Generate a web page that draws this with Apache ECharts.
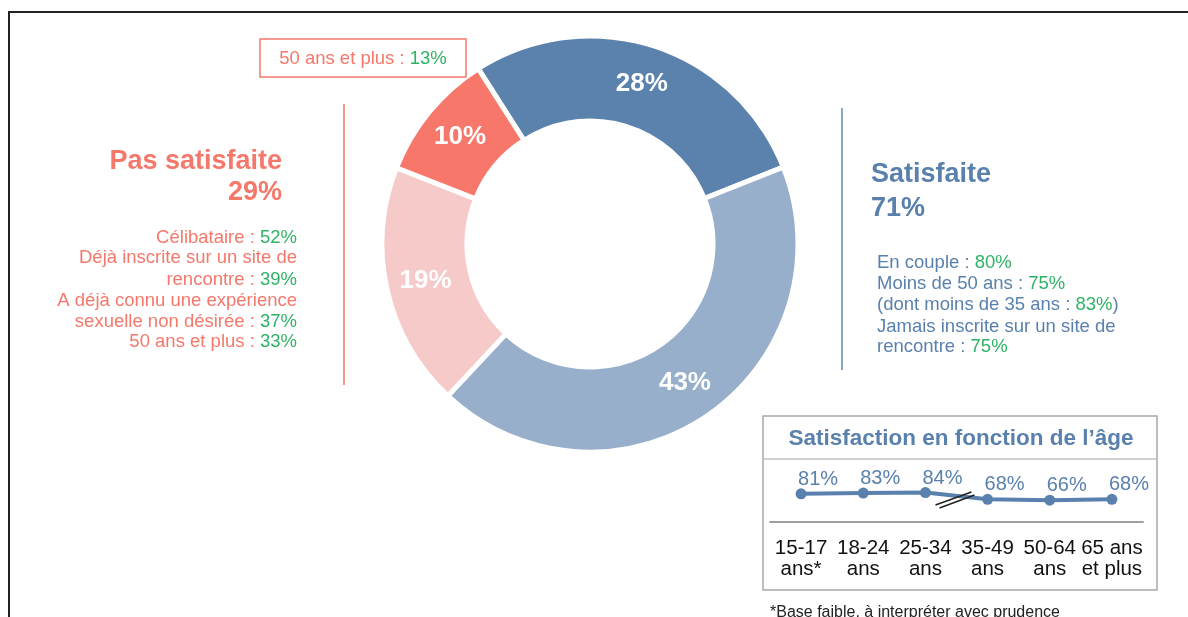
<!DOCTYPE html>
<html>
<head>
<meta charset="utf-8">
<script src="https://cdn.jsdelivr.net/npm/echarts@6/dist/echarts.min.js"></script>
<style>
  html, body { margin: 0; padding: 0; background: #fff; }
  #chart { width: 1188px; height: 617px; }
</style>
</head>
<body>
<div id="chart"></div>
<script>
// donut: satisfaction split
const donutNames = ['Très satisfaite', 'Plutôt satisfaite', 'Plutôt pas satisfaite', 'Pas du tout satisfaite']
const donutValues = [28, 43, 19, 10]

const satisfiedTotal = 71
const unsatisfiedTotal = 29

// side notes: [text, green value, closing text]
const unsatisfiedFacts = [
    ['Célibataire : ', 52],
    ['Déjà inscrite sur un site de', null],
    ['rencontre : ', 39],
    ['A déjà connu une expérience', null],
    ['sexuelle non désirée : ', 37],
    ['50 ans et plus : ', 33]
]
const satisfiedFacts = [
    ['En couple : ', 80],
    ['Moins de 50 ans : ', 75],
    ['(dont moins de 35 ans : ', 83, ')'],
    ['Jamais inscrite sur un site de', null],
    ['rencontre : ', 75]
]
const calloutFact = ['50 ans et plus : ', 13]

// inset: satisfaction by age
const ageGroups = ['15-17\nans*', '18-24\nans', '25-34\nans', '35-49\nans', '50-64\nans', '65 ans\net plus']
const ageSatisfaction = [81, 83, 84, 68, 66, 68]

const RED = '#f5786b'
const BLUE = '#5a81ad'
const GREEN = '#2fb266'
const FONT = '"Liberation Sans", Arial, sans-serif'

const chart = echarts.init(document.getElementById('chart'))

function factLine(f) {
    let s = f[0]
    if (f[1] !== null) s += '{g|' + f[1] + '%}'
    if (f[2]) s += f[2]
    return s
}

chart.setOption({
    animation: false,
    textStyle: { fontFamily: FONT },
    grid: [{ left: 770, top: 459, width: 373, height: 63 }],
    xAxis: [{
        type: 'category',
        data: ageGroups,
        gridIndex: 0,
        axisLine: { lineStyle: { color: '#a0a0a0', width: 2 } },
        axisTick: { show: false },
        axisLabel: { interval: 0, color: '#111', fontSize: 20.5, lineHeight: 21, margin: 16, fontFamily: FONT }
    }],
    yAxis: [{
        type: 'value',
        gridIndex: 0,
        min: 14,
        max: 164,
        show: false
    }],
    series: [{
        type: 'pie',
        silent: true,
        center: [590, 244],
        radius: [123, 208],
        startAngle: 122.5,
        data: donutValues.map((v, i) => ({ name: donutNames[i], value: v })),
        color: ['#5a82ac', '#97afca', '#f7caca', '#f7786b'],
        itemStyle: { borderColor: '#fff', borderWidth: 5 },
        label: {
            position: 'inside',
            formatter: '{c}%',
            color: '#fff',
            fontSize: 26,
            fontWeight: 'bold',
            fontFamily: FONT
        },
        labelLine: { show: false }
    }, {
        type: 'line',
        xAxisIndex: 0,
        yAxisIndex: 0,
        data: ageSatisfaction,
        symbol: 'circle',
        symbolSize: 11,
        color: '#5a81ad',
        lineStyle: { width: 4 },
        label: {
            show: true,
            position: 'top',
            offset: [17, 6],
            formatter: '{c}%',
            color: '#5a81ad',
            fontSize: 20,
            fontFamily: FONT
        }
    }]
})

// break mark between 25-34 and 35-49
const p1 = chart.convertToPixel({ seriesIndex: 1 }, [2, ageSatisfaction[2]])
const p2 = chart.convertToPixel({ seriesIndex: 1 }, [3, ageSatisfaction[3]])
const mx = (p1[0] + p2[0]) / 2 - 2
const my = (p1[1] + p2[1]) / 2 + 3

const g = []
// page frame
g.push({ type: 'polyline', shape: { points: [[9, 617], [9, 12], [1188, 12]] }, style: { stroke: '#222', lineWidth: 2, fill: null } })

// callout box (drawn above the donut)
g.push({ type: 'rect', z: 100, shape: { x: 260, y: 39, width: 206, height: 38 }, style: { stroke: RED, lineWidth: 1.5, fill: '#fff' } })
g.push({
    type: 'text', z: 101, x: 363, y: 59,
    style: { text: factLine(calloutFact), align: 'center', verticalAlign: 'middle', fill: RED, font: '18.5px ' + FONT, rich: { g: { fill: GREEN, font: '18.5px ' + FONT } } }
})

// left block
g.push({ type: 'line', shape: { x1: 344, y1: 104, x2: 344, y2: 385 }, style: { stroke: '#f7958a', lineWidth: 2 } })
g.push({ type: 'text', x: 282, y: 162, style: { text: 'Pas satisfaite', align: 'right', verticalAlign: 'middle', fill: RED, font: 'bold 27px ' + FONT } })
g.push({ type: 'text', x: 282, y: 193, style: { text: unsatisfiedTotal + '%', align: 'right', verticalAlign: 'middle', fill: RED, font: 'bold 27px ' + FONT } })
const leftY = [238, 258, 280, 301, 322, 342]
unsatisfiedFacts.forEach((f, i) => {
    g.push({
        type: 'text', x: 297, y: leftY[i],
        style: { text: factLine(f), align: 'right', verticalAlign: 'middle', fill: RED, font: '18.5px ' + FONT, rich: { g: { fill: GREEN, font: '18.5px ' + FONT } } }
    })
})

// right block
g.push({ type: 'line', shape: { x1: 842, y1: 108, x2: 842, y2: 370 }, style: { stroke: '#8aa6c6', lineWidth: 2 } })
g.push({ type: 'text', x: 871, y: 175, style: { text: 'Satisfaite', align: 'left', verticalAlign: 'middle', fill: BLUE, font: 'bold 27px ' + FONT } })
g.push({ type: 'text', x: 871, y: 209, style: { text: satisfiedTotal + '%', align: 'left', verticalAlign: 'middle', fill: BLUE, font: 'bold 27px ' + FONT } })
const rightY = [263, 284, 305, 327, 347]
satisfiedFacts.forEach((f, i) => {
    g.push({
        type: 'text', x: 877, y: rightY[i],
        style: { text: factLine(f), align: 'left', verticalAlign: 'middle', fill: BLUE, font: '18.5px ' + FONT, rich: { g: { fill: GREEN, font: '18.5px ' + FONT } } }
    })
})

// inset box
g.push({ type: 'rect', z: -1, shape: { x: 763, y: 416, width: 394, height: 174 }, style: { stroke: '#a8a8a8', lineWidth: 1.5, fill: null } })
g.push({ type: 'line', shape: { x1: 763, y1: 459, x2: 1157, y2: 459 }, style: { stroke: '#c0c0c0', lineWidth: 1.5 } })
g.push({ type: 'text', x: 961, y: 439, style: { text: 'Satisfaction en fonction de l’âge', align: 'center', verticalAlign: 'middle', fill: BLUE, font: 'bold 22.5px ' + FONT } })
g.push({ type: 'line', z: 10, shape: { x1: mx - 19, y1: my + 6, x2: mx + 17, y2: my - 7 }, style: { stroke: '#222', lineWidth: 1.6 } })
g.push({ type: 'line', z: 10, shape: { x1: mx - 15, y1: my + 9, x2: mx + 20, y2: my - 4 }, style: { stroke: '#222', lineWidth: 1.6 } })

// footnote
g.push({ type: 'text', x: 770, y: 613, style: { text: '*Base faible, à interpréter avec prudence', align: 'left', verticalAlign: 'middle', fill: '#222', font: '16px ' + FONT } })

chart.setOption({ graphic: { elements: g } })
</script>
</body>
</html>
